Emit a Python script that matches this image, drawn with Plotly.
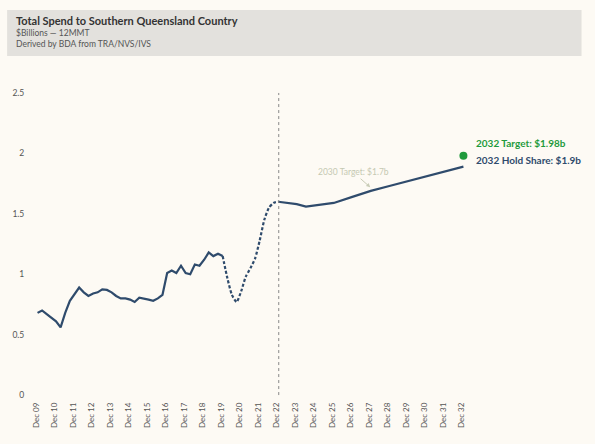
import plotly.graph_objects as go

# ---------------- data ----------------
hist_dates = [
    "2009-12-31", "2010-03-31", "2010-06-30", "2010-09-30", "2010-12-31",
    "2011-03-31", "2011-06-30", "2011-09-30", "2011-12-31",
    "2012-03-31", "2012-06-30", "2012-09-30", "2012-12-31",
    "2013-03-31", "2013-06-30", "2013-09-30", "2013-12-31",
    "2014-03-31", "2014-06-30", "2014-09-30", "2014-12-31",
    "2015-03-31", "2015-06-30", "2015-09-30", "2015-12-31",
    "2016-03-31", "2016-06-30", "2016-09-30", "2016-12-31",
    "2017-03-31", "2017-06-30", "2017-09-30", "2017-12-31",
    "2018-03-31", "2018-06-30", "2018-09-30", "2018-12-31",
    "2019-03-31", "2019-06-30", "2019-09-30", "2019-12-31",
]
hist_values = [
    0.68, 0.70, 0.67, 0.64, 0.61,
    0.56, 0.68, 0.78, 0.84,
    0.89, 0.85, 0.82, 0.84,
    0.85, 0.875, 0.87, 0.85,
    0.82, 0.80, 0.80, 0.79,
    0.77, 0.805, 0.80, 0.79,
    0.78, 0.80, 0.83, 1.01,
    1.03, 1.01, 1.07, 1.01,
    1.00, 1.08, 1.07, 1.12,
    1.18, 1.15, 1.17, 1.15,
]

covid_dates = [
    "2019-12-31", "2020-03-31", "2020-06-30", "2020-09-30", "2020-12-31",
    "2021-03-31", "2021-06-30", "2021-09-30", "2021-12-31",
    "2022-03-31", "2022-06-30", "2022-09-30", "2022-12-31",
]
covid_values = [
    1.15, 0.97, 0.83, 0.77, 0.86,
    0.98, 1.05, 1.13, 1.28,
    1.45, 1.55, 1.59, 1.60,
]

fcst_dates = [
    "2022-12-31", "2023-06-30", "2023-12-31", "2024-06-30", "2024-12-31",
    "2025-12-31", "2026-12-31", "2027-12-31", "2028-12-31", "2029-12-31",
    "2030-12-31", "2031-12-31", "2032-12-31",
]
fcst_values = [1.60, 1.59, 1.58, 1.56, 1.57, 1.59, 1.64, 1.69, 1.73, 1.77, 1.81, 1.85, 1.89]

target_2032_date = "2032-12-31"
target_2032_value = 1.98

tick_years = list(range(2009, 2033))
tick_vals = [f"{y}-12-01" for y in tick_years]
tick_text = [f"Dec {y % 100:02d}" for y in tick_years]

y_ticks = [0, 0.5, 1, 1.5, 2, 2.5]
y_tick_text = ["0", "0.5", "1", "1.5", "2", "2.5"]

title_text = "Total Spend to Southern Queensland Country"
sub1_text = "$Billions \u2014 12MMT"
sub2_text = "Derived by BDA from TRA/NVS/IVS"

# ---------------- style ----------------
BG = "#fdfaf4"
LINE = "#2f4b6c"
GREEN = "#1f9a3c"
FONT = "Lato"

fig = go.Figure()

fig.add_trace(go.Scatter(x=hist_dates, y=hist_values, mode="lines",
                         line=dict(color=LINE, width=2.2), hoverinfo="skip",
                         showlegend=False))
fig.add_trace(go.Scatter(x=covid_dates, y=covid_values, mode="lines",
                         line=dict(color=LINE, width=2.2, dash="3px,2px", shape="spline", smoothing=0.6),
                         hoverinfo="skip", showlegend=False))
fig.add_trace(go.Scatter(x=fcst_dates, y=fcst_values, mode="lines",
                         line=dict(color=LINE, width=2.2), hoverinfo="skip",
                         showlegend=False))
fig.add_trace(go.Scatter(x=[target_2032_date], y=[target_2032_value], mode="markers",
                         marker=dict(color=GREEN, size=8), hoverinfo="skip",
                         showlegend=False))

# vertical divider
fig.add_shape(type="line", xref="x", yref="y", x0="2023-01-10", x1="2023-01-10",
              y0=0, y1=2.5, line=dict(color="#888888", width=1, dash="dot"))

# header box
fig.add_shape(type="rect", xref="paper", yref="paper",
              x0=(5 - 30) / 450, x1=(582 - 30) / 450,
              y0=(400 - 56) / 315, y1=(400 - 10) / 315,
              fillcolor="#e3e1dd", line=dict(width=0), layer="below")

def px_x(p):
    return (p - 30) / 450

def px_y(p):
    return (400 - p) / 315

fig.add_annotation(xref="paper", yref="paper", x=px_x(12), y=px_y(20.5),
                   text=f"<b>{title_text}</b>", showarrow=False,
                   xanchor="left", yanchor="middle",
                   font=dict(family=FONT, size=11, color="#333333"))
fig.add_annotation(xref="paper", yref="paper", x=px_x(12), y=px_y(33),
                   text=sub1_text, showarrow=False, xanchor="left", yanchor="middle",
                   font=dict(family=FONT, size=8.5, color="#555555"))
fig.add_annotation(xref="paper", yref="paper", x=px_x(12), y=px_y(44),
                   text=sub2_text, showarrow=False, xanchor="left", yanchor="middle",
                   font=dict(family=FONT, size=8.5, color="#555555"))

# right labels
fig.add_annotation(xref="paper", yref="paper", x=px_x(474), y=px_y(143),
                   text="<b>2032 Target: $1.98b</b>", showarrow=False,
                   xanchor="left", yanchor="middle",
                   font=dict(family=FONT, size=10, color=GREEN))
fig.add_annotation(xref="paper", yref="paper", x=px_x(474), y=px_y(160),
                   text="<b>2032 Hold Share: $1.9b</b>", showarrow=False,
                   xanchor="left", yanchor="middle",
                   font=dict(family=FONT, size=10, color=LINE))

# 2030 target annotation with arrow
fig.add_annotation(xref="x", yref="y", x="2027-12-20", y=1.72,
                   ax=-17, ay=-15, text="2030 Target: $1.7b", showarrow=True,
                   arrowhead=2, arrowsize=0.8, arrowwidth=1, arrowcolor="#c9ccb6",
                   standoff=0,
                   font=dict(family=FONT, size=8.5, color="#c5c9b2"))

fig.update_layout(
    width=595, height=444,
    margin=dict(l=30, r=115, t=85, b=44),
    paper_bgcolor=BG, plot_bgcolor=BG,
    font=dict(family=FONT, color="#555555"),
    xaxis=dict(type="date", range=["2009-09-13", "2033-11-23"],
               tickvals=tick_vals, ticktext=tick_text, tickangle=-90,
               showgrid=False, zeroline=False, showline=False,
               tickfont=dict(family=FONT, size=8, color="#555555")),
    yaxis=dict(range=[-0.041, 2.566], tickvals=y_ticks, ticktext=y_tick_text,
               showgrid=False, zeroline=False, showline=False,
               ticks="outside", ticklen=5, tickcolor=BG,
               tickfont=dict(family=FONT, size=8.5, color="#555555")),
)

fig.write_html("out.html")
